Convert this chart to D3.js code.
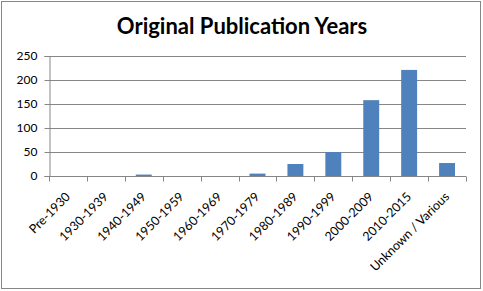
<!DOCTYPE html>
<html>
<head>
<meta charset="utf-8">
<script src="https://cdn.jsdelivr.net/npm/d3@7"></script>
<style>
  body { margin: 0; background: #fff; }
  text { font-family: Lato, "Open Sans", sans-serif; fill: #000; }
</style>
</head>
<body>
<script>
const categories = ['Pre-1930', '1930-1939', '1940-1949', '1950-1959', '1960-1969',
  '1970-1979', '1980-1989', '1990-1999', '2000-2009', '2010-2015', 'Unknown / Various'];
const counts = [0, 0, 3, 0, 0, 5, 25, 50, 158, 221, 27];
const yTicks = [0, 50, 100, 150, 200, 250];

const outerWidth = 483;
const outerHeight = 291;
const margin = {top: 56, left: 49, bottom: 115, right: 17};
const width = outerWidth - margin.left - margin.right;
const height = outerHeight - margin.top - margin.bottom;
const grey = '#868686';

const root = d3.select('body')
  .append('svg')
  .attr('width', outerWidth)
  .attr('height', outerHeight);

// chart frame
root.append('rect')
  .attr('x', 1.5).attr('y', 1.5)
  .attr('width', 479).attr('height', 287)
  .attr('fill', 'none')
  .attr('stroke', grey);

root.append('text')
  .attr('x', 242)
  .attr('y', 34)
  .attr('text-anchor', 'middle')
  .attr('font-size', 22)
  .attr('font-weight', 'bold')
  .text('Original Publication Years');

const svg = root.append('g')
  .attr('transform', `translate(${margin.left}, ${margin.top})`);

const xScale = d3.scaleBand()
  .domain(categories)
  .range([0, width])
  .padding(0);

const yScale = d3.scaleLinear()
  .domain([0, 250])
  .range([height, 0]);

// gridlines
svg.selectAll('line.grid')
  .data(yTicks.slice(1))
  .enter()
  .append('line')
  .attr('class', 'grid')
  .attr('x1', 0).attr('x2', width)
  .attr('y1', d => Math.round(yScale(d)) + 0.5)
  .attr('y2', d => Math.round(yScale(d)) + 0.5)
  .attr('stroke', grey);

const bw = xScale.bandwidth();
svg.selectAll('rect.bar')
  .data(counts)
  .enter()
  .append('rect')
  .attr('class', 'bar')
  .attr('x', (d, i) => xScale(categories[i]) + bw * 0.29)
  .attr('y', d => yScale(d))
  .attr('width', bw * 0.42)
  .attr('height', d => height - yScale(d))
  .attr('fill', '#4F81BD');

const yAxis = d3.axisLeft(yScale)
  .tickValues(yTicks)
  .tickSize(5)
  .tickPadding(7);

const yG = svg.append('g')
  .attr('class', 'axis y-axis')
  .attr('transform', 'translate(0.5,0)')
  .call(yAxis);
yG.select('.domain').attr('stroke', grey);
yG.selectAll('.tick line').attr('stroke', grey);
yG.selectAll('.tick text').attr('font-size', 12).attr('font-family', 'Lato, sans-serif').attr('fill', '#000');

// x axis: ticks on category boundaries
const xG = svg.append('g')
  .attr('class', 'axis x-axis')
  .attr('transform', `translate(0, ${height + 0.5})`);
xG.append('line')
  .attr('x1', 0).attr('x2', width)
  .attr('stroke', grey);
xG.selectAll('line.tk')
  .data(categories.map(c => xScale(c)).concat([width]))
  .enter()
  .append('line')
  .attr('class', 'tk')
  .attr('x1', d => Math.round(d) + 0.5).attr('x2', d => Math.round(d) + 0.5)
  .attr('y1', 0).attr('y2', 5)
  .attr('stroke', grey);

xG.selectAll('text')
  .data(categories)
  .enter()
  .append('text')
  .attr('font-size', 12.5)
  .attr('text-anchor', 'end')
  .attr('transform', d => `translate(${xScale(d) + bw / 2 + 3}, 21) rotate(-45)`)
  .text(d => d);
</script>
</body>
</html>
